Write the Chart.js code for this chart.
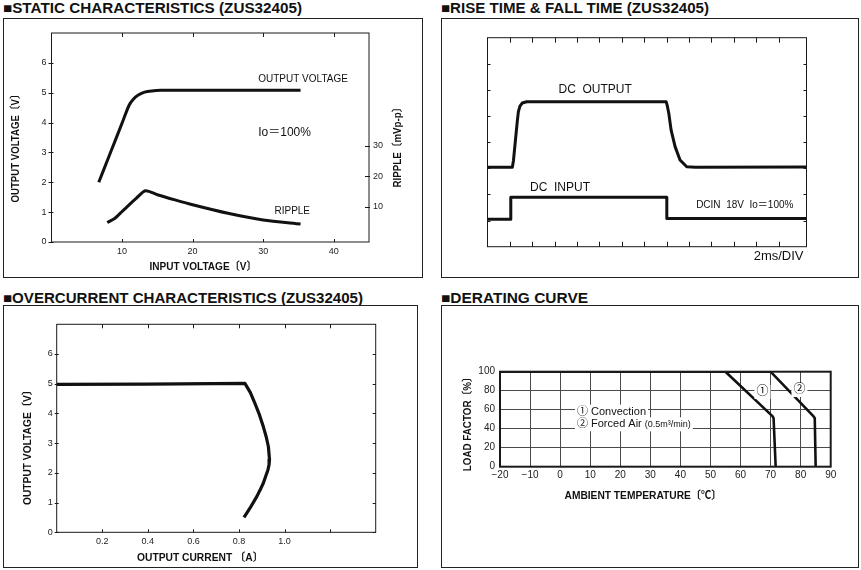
<!DOCTYPE html>
<html><head><meta charset="utf-8">
<script src="https://cdn.jsdelivr.net/npm/chart.js@4.4.1/dist/chart.umd.min.js"></script>
<style>
html,body{margin:0;padding:0;background:#fff;}
body{width:861px;height:570px;position:relative;overflow:hidden;font-family:"Liberation Sans",Arial,Helvetica,sans-serif;}
.hdr{position:absolute;font-weight:bold;font-size:14px;line-height:16px;color:#111;white-space:nowrap;transform-origin:0 50%;}
.box{position:absolute;border:1px solid #222;box-sizing:border-box;pointer-events:none;}
canvas{position:absolute;}
</style></head><body>
<div class="hdr" id="h1" style="left:3px;top:0px">■STATIC CHARACTERISTICS (ZUS32405)</div>
<div class="hdr" id="h2" style="left:441px;top:0px">■RISE TIME &amp; FALL TIME (ZUS32405)</div>
<div class="hdr" id="h3" style="left:3px;top:290px">■OVERCURRENT CHARACTERISTICS (ZUS32405)</div>
<div class="hdr" id="h4" style="left:441px;top:290px">■DERATING CURVE</div>

<canvas id="c1" width="420" height="260" style="left:3px;top:18px"></canvas>
<div class="box" style="left:3px;top:18px;width:420px;height:260px"></div>
<canvas id="c2" width="418" height="260" style="left:441px;top:18px"></canvas>
<div class="box" style="left:441px;top:18px;width:418px;height:260px"></div>
<canvas id="c3" width="415" height="263" style="left:3px;top:305px"></canvas>
<div class="box" style="left:3px;top:305px;width:415px;height:263px"></div>
<canvas id="c4" width="418" height="263" style="left:441px;top:305px"></canvas>
<div class="box" style="left:441px;top:305px;width:418px;height:263px"></div>

<script>
// ---------- DATA ----------
// Static characteristics (input voltage V -> output voltage V)
const staticInputV  = [6.7, 8, 9, 10, 11, 11.6, 12.3, 13.2, 14.2, 15.5, 20, 25, 30, 35.3];
const staticOutputV = [2.0, 2.78, 3.38, 3.98, 4.58, 4.78, 4.92, 5.02, 5.06, 5.08, 5.08, 5.08, 5.08, 5.08];
// Ripple (input voltage V -> ripple mVp-p)
const rippleInputV = [7.9, 9, 10, 11, 12, 13.3, 15, 17.5, 20, 25, 30, 35.3];
const rippleMv     = [4.9, 6.3, 8.5, 10.7, 12.8, 15.3, 14.0, 12.3, 10.7, 7.9, 5.7, 4.4];
const staticXTicks = [10, 20, 30, 40];
const staticYTicks = [0, 1, 2, 3, 4, 5, 6];
const rippleTicks  = [10, 20, 30];

// Rise & fall time (time in divisions, 2ms/DIV -> trace level in divisions)
const riseOutT     = [0, 1.11, 1.16, 1.33, 1.38, 1.45, 1.55, 1.75, 7.98, 8.03, 8.1, 8.2, 8.38, 8.6, 8.9, 9.3, 14.25];
const riseOutLevel = [3.04, 3.04, 3.3, 4.8, 5.17, 5.38, 5.5, 5.55, 5.55, 5.4, 5.1, 4.47, 3.83, 3.32, 3.06, 3.04, 3.05];
const riseInT      = [0, 1.04, 1.04, 8.01, 8.01, 14.25];
const riseInLevel  = [1.05, 1.05, 1.89, 1.89, 1.08, 1.08];
const scopeXDivs   = [1, 2, 3, 4, 5, 6, 7, 8, 9, 10, 11, 12, 13];
const scopeYDivs   = [1, 2, 3, 4, 5, 6, 7];

// Overcurrent characteristics (output current A -> output voltage V)
const ocCurrent = [0, 0.4, 0.826, 0.85, 0.87, 0.89, 0.907, 0.92, 0.929, 0.934, 0.932, 0.927, 0.918, 0.907, 0.893, 0.878, 0.848, 0.822];
const ocVoltage = [4.98, 4.99, 5.01, 4.7, 4.34, 3.95, 3.55, 3.2, 2.88, 2.45, 2.28, 2.1, 1.9, 1.66, 1.43, 1.2, 0.81, 0.5];
const ocXTicks  = [0.2, 0.4, 0.6, 0.8, 1.0, 1.2];
const ocYTicks  = [0, 1, 2, 3, 4, 5, 6];

// Derating curve (ambient temperature C -> load factor %)
const convTemp   = [-20, 55, 70.7, 71.0, 71.7];
const convLoad   = [100, 100, 53, 51, 0];
const forcedTemp = [-20, 70, 84.3, 84.7, 85.0];
const forcedLoad = [100, 100, 53, 51, 0];
const derXTicks  = [-20, -10, 0, 10, 20, 30, 40, 50, 60, 70, 80, 90];
const derYTicks  = [0, 20, 40, 60, 80, 100];

// ---------- HELPERS ----------
const FONT = '"Liberation Sans", Arial, Helvetica, "Noto Sans CJK JP", sans-serif';
Chart.defaults.font.family = FONT;
Chart.defaults.color = '#222';
Chart.defaults.animation = false;
Chart.defaults.plugins.legend.display = false;
Chart.defaults.plugins.tooltip.enabled = false;
const INK = '#111';

function pts(xs, ys) { return xs.map((x, i) => ({x: x, y: ys[i]})); }
function fixedTicks(vals) { return s => { s.ticks = vals.map(v => ({value: v})); }; }
function fixW(px) { return s => { s.width = px; }; }
function fixH(px) { return s => { s.height = px; }; }
const noGrid = {display: false, drawTicks: false};
const noBorder = {display: false};

function frameTicks(cfg) {
  return { id: 'frameTicks', afterDatasetsDraw(chart) {
    const ctx = chart.ctx, a = chart.chartArea;
    ctx.save();
    ctx.strokeStyle = '#1a1a1a';
    ctx.lineWidth = 1;
    (cfg.ticks || []).forEach(t => {
      const sc = chart.scales[t.scale];
      ctx.beginPath();
      t.values.forEach(v => {
        const p = Math.round(sc.getPixelForValue(v)) + 0.5;
        const o = t.out || 0, i = t.in || 0;
        if (t.side === 'top') { ctx.moveTo(p, a.top - o); ctx.lineTo(p, a.top + i); }
        else if (t.side === 'bottom') { ctx.moveTo(p, a.bottom + o); ctx.lineTo(p, a.bottom - i); }
        else if (t.side === 'left') { ctx.moveTo(a.left - o, p); ctx.lineTo(a.left + i, p); }
        else { ctx.moveTo(a.right + o, p); ctx.lineTo(a.right - i, p); }
      });
      ctx.stroke();
    });
    ctx.lineWidth = cfg.frame || 1;
    ctx.strokeRect(a.left, a.top, a.right - a.left, a.bottom - a.top);
    ctx.restore();
  }};
}

function texts(items) {
  return { id: 'texts', afterDraw(chart) {
    const ctx = chart.ctx;
    items.forEach(it => {
      let x = it.x, y = it.y;
      if (it.data) {
        x = chart.scales[it.xs || 'x'].getPixelForValue(it.x);
        y = chart.scales[it.ys || 'y'].getPixelForValue(it.y);
      }
      const parts = it.parts || [{text: it.text, font: it.font}];
      ctx.save();
      ctx.translate(x, y);
      if (it.rot) ctx.rotate(it.rot);
      let total = 0;
      parts.forEach(p => { ctx.font = p.font; p.w = ctx.measureText(p.text).width; total += p.w; });
      let sx = 1;
      if (it.maxW && total > it.maxW) sx = it.maxW / total;
      ctx.scale(sx, 1);
      let start = 0;
      if (it.align === 'center') start = -total / 2;
      else if (it.align === 'right') start = -total;
      if (it.bg) { ctx.fillStyle = '#fff'; ctx.fillRect(start - 2, -7, total + 4, 14); }
      ctx.fillStyle = INK;
      ctx.textBaseline = 'middle';
      ctx.textAlign = 'left';
      let cx = start;
      parts.forEach(p => { ctx.font = p.font; ctx.fillText(p.text, cx, p.dy || 0); cx += p.w; });
      ctx.restore();
    });
  }};
}
const lineDs = (data, extra) => Object.assign({data: data, showLine: true, borderColor: INK, pointRadius: 0, borderWidth: 3, fill: false, borderJoinStyle: 'round', borderCapStyle: 'butt'}, extra || {});
const tickFont = s => ({size: s, family: FONT});
const B11 = 'bold 11px ' + FONT;

// ---------- PANEL 1: STATIC CHARACTERISTICS ----------
new Chart(document.getElementById('c1'), {
  type: 'scatter',
  data: { datasets: [
    lineDs(pts(staticInputV, staticOutputV), {tension: 0.3}),
    lineDs(pts(rippleInputV, rippleMv), {tension: 0.25, yAxisID: 'y2'})
  ]},
  options: {
    responsive: false,
    layout: {padding: {top: 15, left: 0, right: 0, bottom: 0}},
    scales: {
      x: {type: 'linear', min: 0, max: 45, afterBuildTicks: fixedTicks(staticXTicks), afterFit: fixH(36),
          grid: noGrid, border: noBorder, ticks: {padding: 4, font: tickFont(9), autoSkip: false, maxRotation: 0}},
      y: {type: 'linear', min: 0, max: 7, afterBuildTicks: fixedTicks(staticYTicks), afterFit: fixW(48.5),
          grid: noGrid, border: noBorder, ticks: {padding: 5, font: tickFont(9), autoSkip: false}},
      y2: {type: 'linear', position: 'right', min: -1.5, max: 67, afterBuildTicks: fixedTicks(rippleTicks), afterFit: fixW(54),
          grid: noGrid, border: noBorder, ticks: {padding: 4, font: tickFont(9), autoSkip: false}}
    }
  },
  plugins: [
    frameTicks({frame: 1, ticks: [
      {scale: 'x', side: 'top', values: staticXTicks, in: 4},
      {scale: 'x', side: 'bottom', values: staticXTicks, in: 3},
      {scale: 'y', side: 'left', values: staticYTicks, in: 2, out: 3},
      {scale: 'y2', side: 'right', values: rippleTicks, in: 4, out: 1}
    ]}),
    texts([
      {text: 'OUTPUT VOLTAGE〔V〕', x: 13, y: 128, rot: -Math.PI / 2, align: 'center', font: B11, maxW: 113},
      {text: 'INPUT VOLTAGE〔V〕', x: 200, y: 249, align: 'center', font: B11, maxW: 107},
      {text: 'RIPPLE〔mVp-p〕', x: 395, y: 127, rot: -Math.PI / 2, align: 'center', font: B11, maxW: 85},
      {text: 'OUTPUT VOLTAGE', data: true, x: 29.3, y: 5.44, font: '10px ' + FONT},
      {text: 'Io＝100%', data: true, x: 29.3, y: 3.66, font: '12px ' + FONT},
      {text: 'RIPPLE', data: true, x: 31.6, y: 1.04, font: '10px ' + FONT}
    ])
  ]
});

// ---------- PANEL 2: RISE TIME & FALL TIME ----------
new Chart(document.getElementById('c2'), {
  type: 'scatter',
  data: { datasets: [
    lineDs(pts(riseOutT, riseOutLevel), {tension: 0}),
    lineDs(pts(riseInT, riseInLevel), {tension: 0})
  ]},
  options: {
    responsive: false,
    layout: {padding: {top: 19.7, left: 0, right: 52.5, bottom: 0}},
    scales: {
      x: {type: 'linear', min: 0, max: 14.25, afterBuildTicks: fixedTicks(scopeXDivs), afterFit: fixH(31.3),
          grid: noGrid, border: noBorder, ticks: {display: false}},
      y: {type: 'linear', min: 0, max: 8, afterBuildTicks: fixedTicks(scopeYDivs), afterFit: fixW(46.5),
          grid: noGrid, border: noBorder, ticks: {display: false}}
    }
  },
  plugins: [
    frameTicks({frame: 1, ticks: [
      {scale: 'x', side: 'top', values: scopeXDivs, in: 5},
      {scale: 'x', side: 'bottom', values: scopeXDivs, in: 5},
      {scale: 'y', side: 'left', values: scopeYDivs, in: 3},
      {scale: 'y', side: 'right', values: scopeYDivs, in: 3}
    ]}),
    texts([
      {text: 'DC  OUTPUT', data: true, x: 3.17, y: 6.02, font: '12px ' + FONT},
      {text: 'DC  INPUT', data: true, x: 1.9, y: 2.26, font: '12px ' + FONT},
      {text: 'DCIN  18V  Io＝100%', data: true, x: 9.32, y: 1.6, font: '10px ' + FONT, maxW: 101},
      {text: '2ms/DIV', x: 362.5, y: 238.7, align: 'right', font: '13px ' + FONT}
    ])
  ]
});

// ---------- PANEL 3: OVERCURRENT CHARACTERISTICS ----------
new Chart(document.getElementById('c3'), {
  type: 'scatter',
  data: { datasets: [ lineDs(pts(ocCurrent, ocVoltage), {tension: 0, borderWidth: 3.2}) ]},
  options: {
    responsive: false,
    layout: {padding: {top: 19.3, left: 0, right: 42.3, bottom: 0}},
    scales: {
      x: {type: 'linear', min: 0, max: 1.4, afterBuildTicks: fixedTicks(ocXTicks), afterFit: fixH(35.7),
          grid: noGrid, border: noBorder,
          ticks: {padding: 4, font: tickFont(9), autoSkip: false, maxRotation: 0,
                  callback: v => (v > 1.05 ? '' : Number(v).toFixed(1))}},
      y: {type: 'linear', min: 0, max: 7, afterBuildTicks: fixedTicks(ocYTicks), afterFit: fixW(53.7),
          grid: noGrid, border: noBorder, ticks: {padding: 4, font: tickFont(9), autoSkip: false}}
    }
  },
  plugins: [
    frameTicks({frame: 1, ticks: [
      {scale: 'x', side: 'top', values: ocXTicks, in: 4},
      {scale: 'x', side: 'bottom', values: ocXTicks, in: 3},
      {scale: 'y', side: 'left', values: ocYTicks, in: 2, out: 2},
      {scale: 'y', side: 'right', values: ocYTicks, in: 3}
    ]}),
    texts([
      {text: 'OUTPUT VOLTAGE〔V〕', x: 25, y: 140, rot: -Math.PI / 2, align: 'center', font: B11, maxW: 120},
      {text: 'OUTPUT CURRENT 〔A〕', x: 197, y: 252.7, align: 'center', font: B11, maxW: 126}
    ])
  ]
});

// ---------- PANEL 4: DERATING CURVE ----------
const derGrid = {display: true, drawOnChartArea: true, drawTicks: false, color: '#4a4a4a', lineWidth: 1};
new Chart(document.getElementById('c4'), {
  type: 'scatter',
  data: { datasets: [
    lineDs(pts(convTemp, convLoad), {tension: 0, borderWidth: 2.6}),
    lineDs(pts(forcedTemp, forcedLoad), {tension: 0, borderWidth: 2.6})
  ]},
  options: {
    responsive: false,
    layout: {padding: {top: 66.7, left: 0, right: 28.3, bottom: 0}},
    scales: {
      x: {type: 'linear', min: -20, max: 90, afterBuildTicks: fixedTicks(derXTicks), afterFit: fixH(101.3),
          grid: derGrid, border: noBorder,
          ticks: {padding: 3, font: tickFont(10), autoSkip: false, maxRotation: 0,
                  callback: v => (v < 0 ? '−' + Math.abs(v) : String(v))}},
      y: {type: 'linear', min: 0, max: 100, afterBuildTicks: fixedTicks(derYTicks), afterFit: fixW(59),
          grid: derGrid, border: noBorder, ticks: {padding: 5, font: tickFont(10), autoSkip: false}}
    }
  },
  plugins: [
    frameTicks({frame: 2, ticks: []}),
    texts([
      {text: 'LOAD FACTOR〔%〕', x: 26.7, y: 116.7, rot: -Math.PI / 2, align: 'center', font: B11, maxW: 99},
      {text: 'AMBIENT TEMPERATURE〔℃〕', x: 202, y: 190.7, align: 'center', font: B11, maxW: 157},
      {text: '① Convection', data: true, x: 5.6, y: 57.9, font: '11px ' + FONT, bg: true},
      {parts: [{text: '② Forced Air ', font: '11px ' + FONT}, {text: '(0.5m³/min)', font: '9px ' + FONT}],
       data: true, x: 5.6, y: 44.6, bg: true},
      {text: '①', data: true, x: 67.3, y: 78.6, align: 'center', font: '12px ' + FONT, bg: true},
      {text: '②', data: true, x: 79.6, y: 80.7, align: 'center', font: '12px ' + FONT, bg: true}
    ])
  ]
});

// fit headers to reference widths
[['h1', 299], ['h2', 268], ['h3', 360], ['h4', 147]].forEach(([id, w]) => {
  const el = document.getElementById(id);
  const r = el.getBoundingClientRect().width;
  if (r > 0) el.style.transform = 'scaleX(' + (w / r) + ')';
});
</script>
</body></html>
